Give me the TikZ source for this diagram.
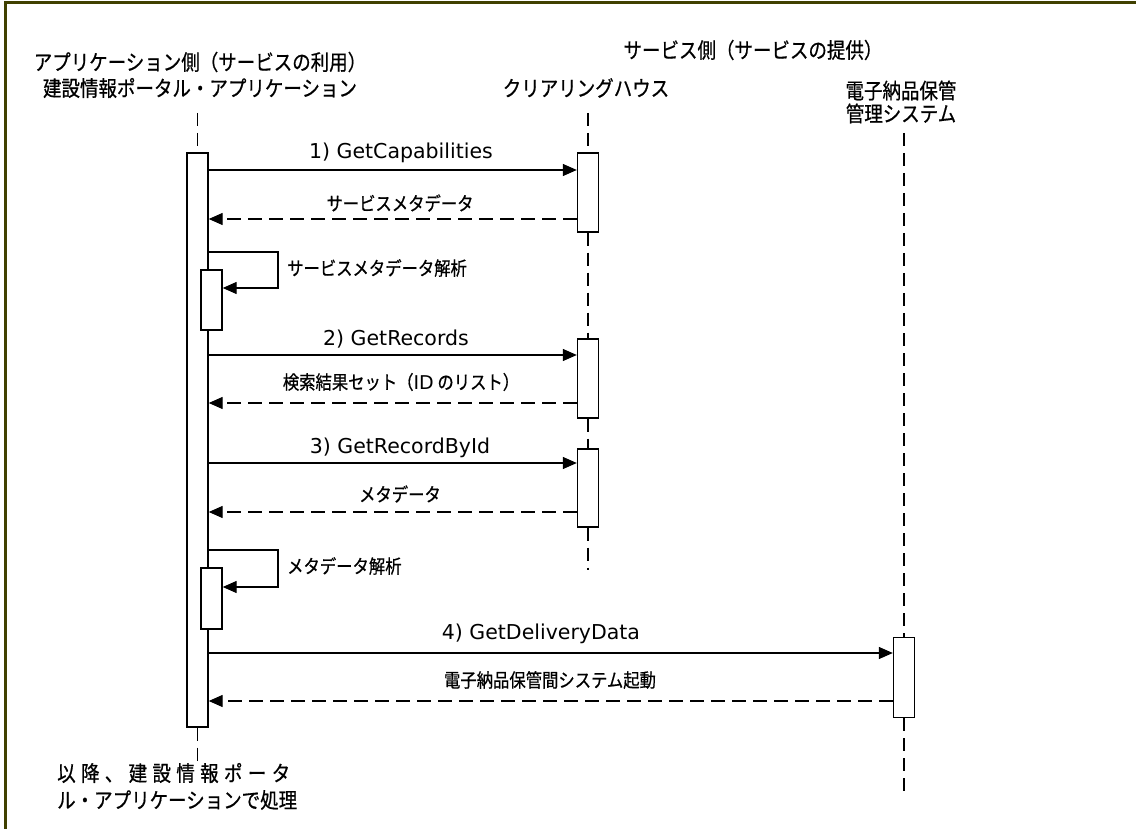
\documentclass[tikz,border=0pt]{standalone}
\usepackage{fontspec}
\setmainfont{Noto Sans CJK JP}[FakeStretch=0.86, FakeBold=0.6]
\newfontfamily\lat{DejaVu Sans}
\usetikzlibrary{arrows.meta}
\definecolor{frame}{HTML}{404000}
\tikzset{
  bar/.style={draw, line width=1.4pt, fill=white, minimum width=21pt, inner sep=0pt},
  life/.style={line width=1.4pt, dash pattern=on 13pt off 7pt},
  msg/.style={line width=1.4pt, -{Triangle[length=14pt,width=12pt]}},
  ret/.style={line width=1.4pt, dash pattern=on 14pt off 7pt, -{Triangle[length=14pt,width=12pt]}},
  head/.style={font=\fontsize{21.5}{26}\selectfont, inner sep=0pt, align=center},
  lbl/.style={font=\fontsize{19}{22}\selectfont, inner sep=0pt},
  llbl/.style={font=\lat\fontsize{20.5}{24}\selectfont, inner sep=0pt},
}
\begin{document}
\begin{tikzpicture}[x=1pt,y=-1pt]
\useasboundingbox (0,0) rectangle (1136,829);
\fill[white] (0,0) rectangle (1136,829);
\draw[frame, line width=2.6pt] (5.5,840) -- (5.5,2.5) -- (1145,2.5);

% headings
\node[head] (hsvc) at (753,50) {サービス側（サービスの提供）};
\node[head] (happ1) at (200,62) {アプリケーション側（サービスの利用）};
\node[head] (happ2) at (200,88) {建設情報ポータル・アプリケーション};
\node[head] (hch) at (586,88) {クリアリングハウス};
\node[head] (hel) at (901,102) {電子納品保管\\[-3pt]管理システム};

% activation bars
\node[bar, minimum height=574pt] (A) at (197.5,440) {};
\node[bar, minimum height=60pt] (N1) at (211.5,300) {};
\node[bar, minimum height=61pt] (N2) at (211.5,598.5) {};
\node[bar, minimum height=79pt] (C1) at (588,192.5) {};
\node[bar, minimum height=79pt] (C2) at (588,378.5) {};
\node[bar, minimum height=78pt] (C3) at (588,488) {};
\node[bar, minimum height=80pt] (E1) at (904,677.5) {};

% lifelines
\coordinate (Atop) at (197.5,113);
\coordinate (Abot) at (197.5,765);
\coordinate (Ctop) at (588,113);
\coordinate (Cbot) at (588,570);
\coordinate (Etop) at (904,133);
\coordinate (Ebot) at (904,797);
\draw[life] (Atop) -- (A.north);
\draw[life] (A.south) -- (Abot);
\draw[life] (Ctop) -- (C1.north);
\draw[life] (C1.south) -- (C2.north);
\draw[life] (C2.south) -- (C3.north);
\draw[life] (C3.south) -- (Cbot);
\draw[life] (Etop) -- (E1.north);
\draw[life] (E1.south) -- (Ebot);

% messages
\draw[msg] (A.east |- 0,170) -- (C1.west |- 0,170);
\node[llbl] (m1) at (401,153) {1)\ GetCapabilities};
\draw[ret] (C1.west |- 0,219) -- (A.east |- 0,219);
\node[lbl] (r1) at (400,203) {サービスメタデータ};

\draw[msg] (A.east |- 0,252) -- (278,252) -- (278,288) -- (N1.east |- 0,288);
\node[lbl, anchor=west] (s1) at (287,268) {サービスメタデータ解析};

\draw[msg] (A.east |- 0,355) -- (C2.west |- 0,355);
\node[llbl] (m2) at (396,339) {2)\ GetRecords};
\draw[ret] (C2.west |- 0,403) -- (A.east |- 0,403);
\node[lbl] (r2) at (401,382) {検索結果セット（{\lat\fontsize{19}{22}\selectfont ID} のリスト）};

\draw[msg] (A.east |- 0,463) -- (C3.west |- 0,463);
\node[llbl] (m3) at (400,448) {3)\ GetRecordById};
\draw[ret] (C3.west |- 0,512) -- (A.east |- 0,512);
\node[lbl] (r3) at (400,494) {メタデータ};

\draw[msg] (A.east |- 0,550) -- (278,550) -- (278,587) -- (N2.east |- 0,587);
\node[lbl, anchor=west] (s2) at (287,566) {メタデータ解析};

\draw[msg] (A.east |- 0,653) -- (E1.west |- 0,653);
\node[llbl] (m4) at (541,634) {4)\ GetDeliveryData};
\draw[ret] (E1.west |- 0,701) -- (A.east |- 0,701);
\node[lbl] (r4) at (550,680) {電子納品保管間システム起動};

% bottom note
\node[head, anchor=west] (b1) at (57,773) {\makebox[233pt][s]{以\hfill 降\hfill 、\hfill 建\hfill 設\hfill 情\hfill 報\hfill ポ\hfill ー\hfill タ}};
\node[head, anchor=west] (b2) at (57,800) {ル・アプリケーションで処理};
\end{tikzpicture}
\end{document}
